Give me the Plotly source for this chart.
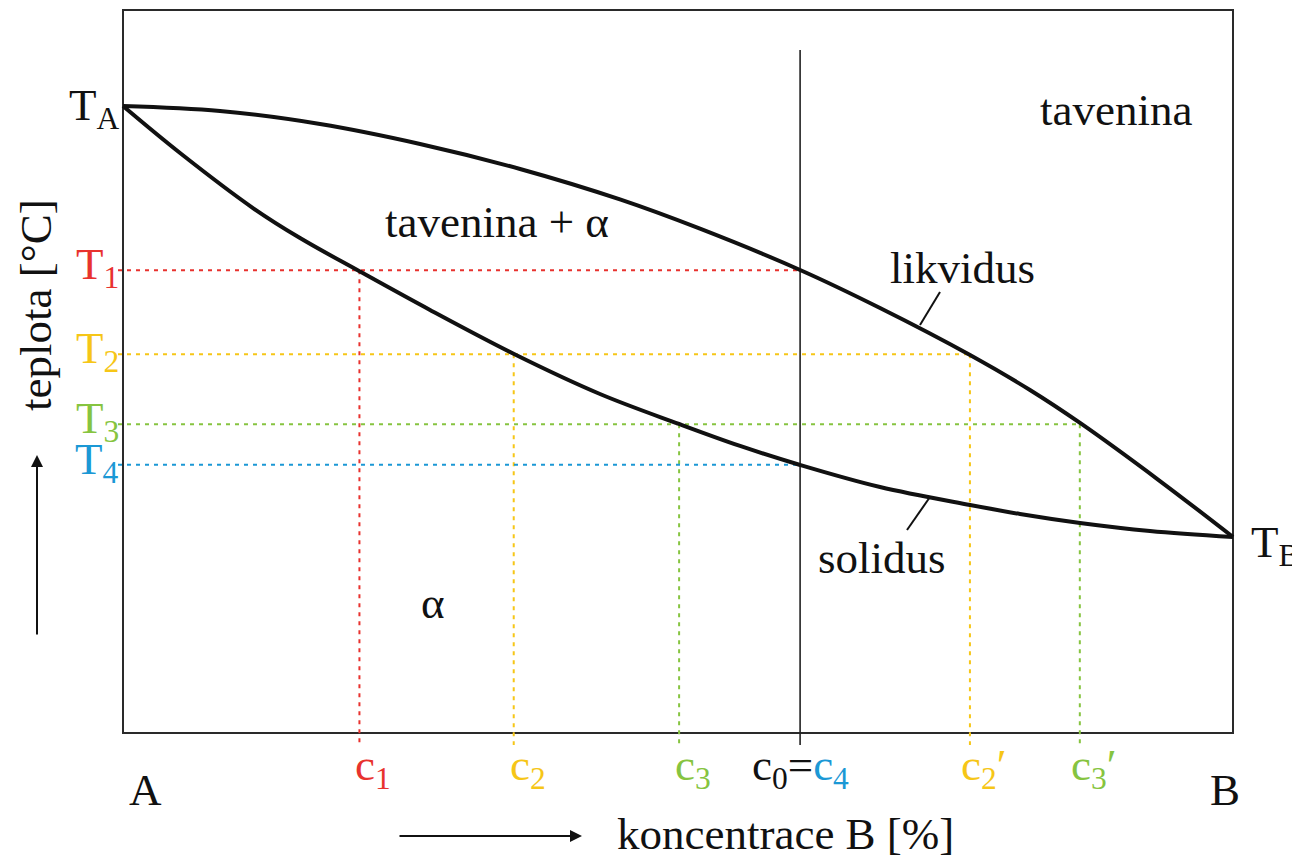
import plotly.graph_objects as go

# ---- data (concentration of B in %, temperature in relative units) ----
liq_x = [0.0, 8.74, 17.75, 26.76, 35.77, 44.77, 51.98, 61.0, 68.20, 76.31, 81.71, 86.22, 93.42, 100.0]
liq_y = [86.72, 86.03, 84.23, 81.47, 78.01, 73.80, 69.75, 64.04, 58.78, 52.28, 47.44, 42.88, 34.85, 27.11]
sol_x = [0.0, 5.14, 11.71, 15.95, 21.26, 27.66, 35.23, 42.97, 50.09, 55.59, 61.0, 68.20, 76.31,
         80.81, 86.22, 92.52, 100.0]
sol_y = [86.72, 80.22, 72.61, 68.46, 63.90, 58.51, 52.42, 46.89, 42.74, 39.70, 37.07, 34.02, 31.54,
         30.29, 29.05, 27.94, 27.11]

T_names = ["1", "2", "3", "4"]
T_values = [64.0, 52.4, 42.7, 37.1]
T_colors = ["#e8322e", "#f6c617", "#86c440", "#1b98d5"]
# solidus / liquidus concentrations at each temperature
c_sol = [21.3, 35.2, 50.1, 61.0]       # c1, c2, c3, c4
c_liq = [61.0, 76.3, 86.2, None]       # c0, c2', c3'
c0 = 61.0

FONT = "Liberation Serif, Times New Roman, Times, serif"
FS = 45

# page pixel -> data helpers (layout only); the page body has an 8px margin
def dx(px):
    return (px - 123) / 11.1

def dy(py):
    return (733 - py) / 7.23

fig = go.Figure()

# dotted construction lines
bottom = dy(745)
for i, (T, col) in enumerate(zip(T_values, T_colors)):
    xr = c_liq[i] if c_liq[i] is not None else c_sol[i]
    fig.add_trace(go.Scatter(x=[dx(118), xr], y=[T, T], mode="lines",
                             line=dict(color=col, width=2, dash="4px,5px"),
                             hoverinfo="skip", showlegend=False))
    verts = []
    if c_sol[i] != c0:
        verts.append(c_sol[i])
    if c_liq[i] is not None and c_liq[i] != c0:
        verts.append(c_liq[i])
    for cx in verts:
        fig.add_trace(go.Scatter(x=[cx, cx], y=[T, bottom], mode="lines",
                                 line=dict(color=col, width=2, dash="4px,5px"),
                                 hoverinfo="skip", showlegend=False))

# c0 vertical line
fig.add_trace(go.Scatter(x=[c0, c0], y=[dy(50), bottom], mode="lines",
                         line=dict(color="#222", width=1.6),
                         hoverinfo="skip", showlegend=False))

# liquidus and solidus
fig.add_trace(go.Scatter(x=liq_x, y=liq_y, mode="lines",
                         line=dict(color="#111", width=4, shape="spline", smoothing=1.0),
                         hoverinfo="skip", showlegend=False))
fig.add_trace(go.Scatter(x=sol_x, y=sol_y, mode="lines",
                         line=dict(color="#111", width=4, shape="spline", smoothing=1.0),
                         hoverinfo="skip", showlegend=False))

shapes = [
    dict(type="rect", x0=0, x1=100, y0=0, y1=100, xref="x", yref="y",
         line=dict(color="#2a2a2a", width=2), layer="below"),
    dict(type="line", x0=dx(940), y0=dy(292), x1=dx(920), y1=dy(325),
         line=dict(color="#111", width=2)),
    dict(type="line", x0=dx(930), y0=dy(497), x1=dx(907), y1=dy(530),
         line=dict(color="#111", width=2)),
]

ann = []
def text(px, py, s, color="#111", size=FS, xanchor="center", angle=0):
    ann.append(dict(x=dx(px), y=dy(py), text=s, showarrow=False,
                    font=dict(family=FONT, size=size, color=color),
                    xanchor=xanchor, yanchor="middle", textangle=angle))

text(1116, 110, "tavenina")
text(497, 222, "tavenina + α")
text(962, 268, "likvidus")
text(882, 558, "solidus")
text(433, 603, "α")
text(145, 790, "A")
text(1225, 790, "B")
text(785, 834, "koncentrace B [%]")
text(36, 305, "teplota [°C]", angle=-90)
text(122, 108, "T<sub>A</sub>", xanchor="right")
text(1249, 545, "T<sub>B</sub>", xanchor="left")

for name, T, col in zip(T_names, T_values, T_colors):
    ann.append(dict(x=dx(121), y=T, text="T<sub>%s</sub>" % name, showarrow=False,
                    font=dict(family=FONT, size=FS, color=col),
                    xanchor="right", yanchor="middle", yshift=3))

c_labels = [(c_sol[0], "c<sub>1</sub>", T_colors[0]),
            (c_sol[1], "c<sub>2</sub>", T_colors[1]),
            (c_sol[2], "c<sub>3</sub>", T_colors[2]),
            (c_liq[1], "c<sub>2</sub>′", T_colors[1]),
            (c_liq[2], "c<sub>3</sub>′", T_colors[2])]
for cx, s, col in c_labels:
    ann.append(dict(x=cx, y=dy(768), text=s, showarrow=False,
                    font=dict(family=FONT, size=FS, color=col),
                    xanchor="center", yanchor="middle", xshift=14))
ann.append(dict(x=c0, y=dy(768),
                text="c<sub>0</sub>=<span style='color:%s'>c<sub>4</sub></span>" % T_colors[3],
                showarrow=False, font=dict(family=FONT, size=FS, color="#111"),
                xanchor="center", yanchor="middle", xshift=0))

# arrows
ann.append(dict(x=dx(582), y=dy(836), ax=dx(398), ay=dy(836), xref="x", yref="y",
                axref="x", ayref="y", text="", showarrow=True, arrowhead=2,
                arrowsize=1.2, arrowwidth=2, arrowcolor="#111"))
ann.append(dict(x=dx(37), y=dy(455), ax=dx(37), ay=dy(636), xref="x", yref="y",
                axref="x", ayref="y", text="", showarrow=True, arrowhead=2,
                arrowsize=1.2, arrowwidth=2, arrowcolor="#111"))

fig.update_layout(
    width=1292, height=850, autosize=False,
    margin=dict(l=0, r=0, t=0, b=0),
    paper_bgcolor="white", plot_bgcolor="white",
    xaxis=dict(range=[dx(8), dx(1300)], visible=False, fixedrange=True),
    yaxis=dict(range=[dy(858), dy(8)], visible=False, fixedrange=True),
    shapes=shapes, annotations=ann, showlegend=False,
)

fig.write_html("out.html")
